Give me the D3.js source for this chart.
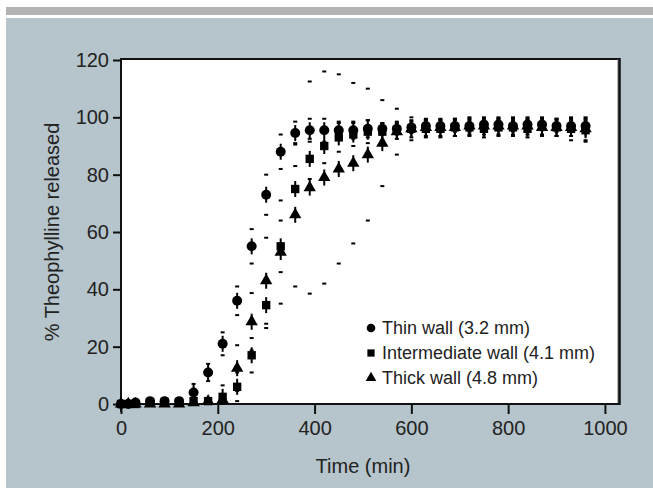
<!DOCTYPE html>
<html>
<head>
<meta charset="utf-8">
<script src="https://cdn.jsdelivr.net/npm/d3@7"></script>
<style>
  body { margin: 0; background: #fff; }
  svg text { font-family: "Liberation Sans", Arial, sans-serif; fill: #222; }
</style>
</head>
<body>
<svg id="chart" width="653" height="488"></svg>
<script>
// Sampling times (min)
var times = [0, 15, 30, 60, 90, 120, 150, 180, 210, 240, 270, 300, 330, 360, 390, 420, 450,
             480, 510, 540, 570, 600, 630, 660, 690, 720, 750, 780, 810, 840, 870, 900, 930, 960];

// % released
var thinValues = [0, 0, 0.5, 1, 1, 1, 4, 11, 21, 36, 55, 73, 88, 94.5, 95.5, 95.5, 95.5,
                  95.5, 96, 96, 96, 96.5, 97, 97, 97, 97, 97.5, 97.5, 97, 97.5, 97.5, 97, 97, 97];
var thinErrors = [0.5, 0.5, 0.5, 0.5, 0.5, 1, 3, 3, 4, 5, 6, 7, 6, 4, 4, 4, 3,
                  3, 3, 2, 2, 2, 2, 2, 2, 2, 2, 2, 2, 2, 2, 2, 2, 2];

var interValues = [0, 0, 0, 0.5, 0.5, 0.5, 1, 1, 2.5, 6, 17, 34.5, 55, 75, 85.5, 90, 93,
                   94, 95, 95, 95.5, 96, 96, 96, 96.5, 96.5, 96, 96.5, 96.5, 96, 97, 96.5, 96, 95.5];
var interErrors = [0.5, 0.5, 0.5, 0.5, 0.5, 0.5, 1, 1, 4, 5, 6, 8, 9, 8, 7, 6, 5,
                   4, 4, 3, 3, 3, 3, 3, 3, 3, 3, 3, 3, 3, 3, 3, 4, 4];

var thickValues = [0, 0, 0, 0, 0, 0, 0.5, 1, 1.5, 12.5, 28.7, 43, 53, 66, 75.5, 79, 82,
                   84, 87, 91, 95, 96, 96.5, 96.5, 96.5, 97, 97, 97, 97, 97, 96.5, 96.5, 96.5, 96];
var thickErrors = [0.5, 0.5, 0.5, 0.5, 0.5, 0.5, 1, 1, 2, 8, 10, 15, 18, 25, 37, 37, 33,
                   28, 23, 15, 8, 4, 3, 3, 3, 3, 3, 3, 3, 3, 3, 3, 3, 4];

var xTicks = [0, 200, 400, 600, 800, 1000];
var yTicks = [0, 20, 40, 60, 80, 100, 120];

var series = [
  { label: "Thin wall (3.2 mm)", shape: d3.symbolCircle, size: 78, values: thinValues, errors: thinErrors },
  { label: "Intermediate wall (4.1 mm)", shape: d3.symbolSquare, size: 70, values: interValues, errors: interErrors },
  { label: "Thick wall (4.8 mm)", shape: d3.symbolTriangle, size: 66, values: thickValues, errors: thickErrors }
];

var svg = d3.select("#chart");

// page furniture
svg.append("rect").attr("x", 6).attr("y", 7).attr("width", 647).attr("height", 8).attr("fill", "#b3b3b3");
svg.append("rect").attr("x", 6).attr("y", 18).attr("width", 647).attr("height", 470).attr("fill", "#b6c4cb");

var x = d3.scaleLinear().domain([0, 1027]).range([121, 618]);
var y = d3.scaleLinear().domain([0, 120]).range([404, 60]);

// plot area
svg.append("rect")
  .attr("x", x(0)).attr("y", y(120) - 1)
  .attr("width", x(1027) - x(0)).attr("height", y(0) - y(120) + 1)
  .attr("fill", "#fff");
// shadowed frame top / right
svg.append("line").attr("x1", x(0)).attr("x2", x(1027) + 1).attr("y1", y(120) - 1).attr("y2", y(120) - 1)
  .attr("stroke", "#111").attr("stroke-width", 2);
svg.append("line").attr("x1", x(1027)).attr("x2", x(1027)).attr("y1", y(120) - 1).attr("y2", y(0))
  .attr("stroke", "#777").attr("stroke-width", 1);
svg.append("line").attr("x1", x(1027) + 1.5).attr("x2", x(1027) + 1.5).attr("y1", y(120) - 2).attr("y2", y(0) + 1)
  .attr("stroke", "#111").attr("stroke-width", 2.5);

// axes
var xAxis = d3.axisBottom(x).tickValues(xTicks).tickSize(10).tickPadding(5).tickFormat(d3.format("d"));
var yAxis = d3.axisLeft(y).tickValues(yTicks).tickSize(8).tickPadding(4).tickFormat(d3.format("d"));

var gx = svg.append("g").attr("transform", "translate(0," + y(0) + ")").call(xAxis);
var gy = svg.append("g").attr("transform", "translate(" + x(0) + ",0)").call(yAxis);
[gx, gy].forEach(function (g) {
  g.select(".domain").remove();
  g.selectAll(".tick line").attr("stroke", "#111").attr("stroke-width", 2);
  g.selectAll(".tick text").style("font-size", "20px").attr("fill", "#222");
});
gx.selectAll(".tick text").attr("dy", "0.78em");

svg.append("line").attr("x1", x(0) - 1).attr("x2", x(1027) + 2).attr("y1", y(0)).attr("y2", y(0))
  .attr("stroke", "#111").attr("stroke-width", 2);
svg.append("line").attr("x1", x(0)).attr("x2", x(0)).attr("y1", y(120) - 2).attr("y2", y(0) + 8)
  .attr("stroke", "#111").attr("stroke-width", 2);

// axis titles
svg.append("text").attr("x", x(500)).attr("y", 473).attr("text-anchor", "middle")
  .style("font-size", "20px").text("Time (min)");
svg.append("text").attr("transform", "translate(59," + y(60) + ") rotate(-90)")
  .attr("text-anchor", "middle").style("font-size", "20px").text("% Theophylline released");

// error bars (short stems + caps) and markers
series.slice().reverse().forEach(function (s) {
  var g = svg.append("g");
  var pts = times.map(function (t, i) { return { t: t, v: s.values[i], e: s.errors[i] }; });

  g.selectAll("line.stem").data(pts).enter().append("line")
    .attr("x1", function (d) { return x(d.t); }).attr("x2", function (d) { return x(d.t); })
    .attr("y1", function (d) { return Math.max(y(d.v + d.e), y(d.v) - 8); })
    .attr("y2", function (d) { return Math.min(y(Math.max(0, d.v - d.e)), y(d.v) + 8); })
    .attr("stroke", "#000").attr("stroke-width", 2);

  g.selectAll("line.capHi").data(pts).enter().append("line")
    .attr("x1", function (d) { return x(d.t) - 2; }).attr("x2", function (d) { return x(d.t) + 2; })
    .attr("y1", function (d) { return y(d.v + d.e); }).attr("y2", function (d) { return y(d.v + d.e); })
    .attr("stroke", "#000").attr("stroke-width", 2);
  g.selectAll("line.capLo").data(pts).enter().append("line")
    .attr("x1", function (d) { return x(d.t) - 2; }).attr("x2", function (d) { return x(d.t) + 2; })
    .attr("y1", function (d) { return y(Math.max(0, d.v - d.e)); }).attr("y2", function (d) { return y(Math.max(0, d.v - d.e)); })
    .attr("stroke", "#000").attr("stroke-width", 2);

  g.selectAll("path.mark").data(pts).enter().append("path")
    .attr("transform", function (d) { return "translate(" + x(d.t) + "," + y(d.v) + ")"; })
    .attr("d", d3.symbol().type(s.shape).size(s.size))
    .attr("fill", "#000");
});

// legend
var legend = svg.selectAll(".legend").data(series).enter().append("g")
  .attr("transform", function (d, i) { return "translate(371," + (328 + i * 25) + ")"; });
legend.append("path")
  .attr("d", function (d) { return d3.symbol().type(d.shape).size(d.size * 0.75)(); })
  .attr("fill", "#000");
legend.append("text").attr("x", 11).attr("dy", "0.35em")
  .style("font-size", "18px").text(function (d) { return d.label; });
</script>
</body>
</html>
